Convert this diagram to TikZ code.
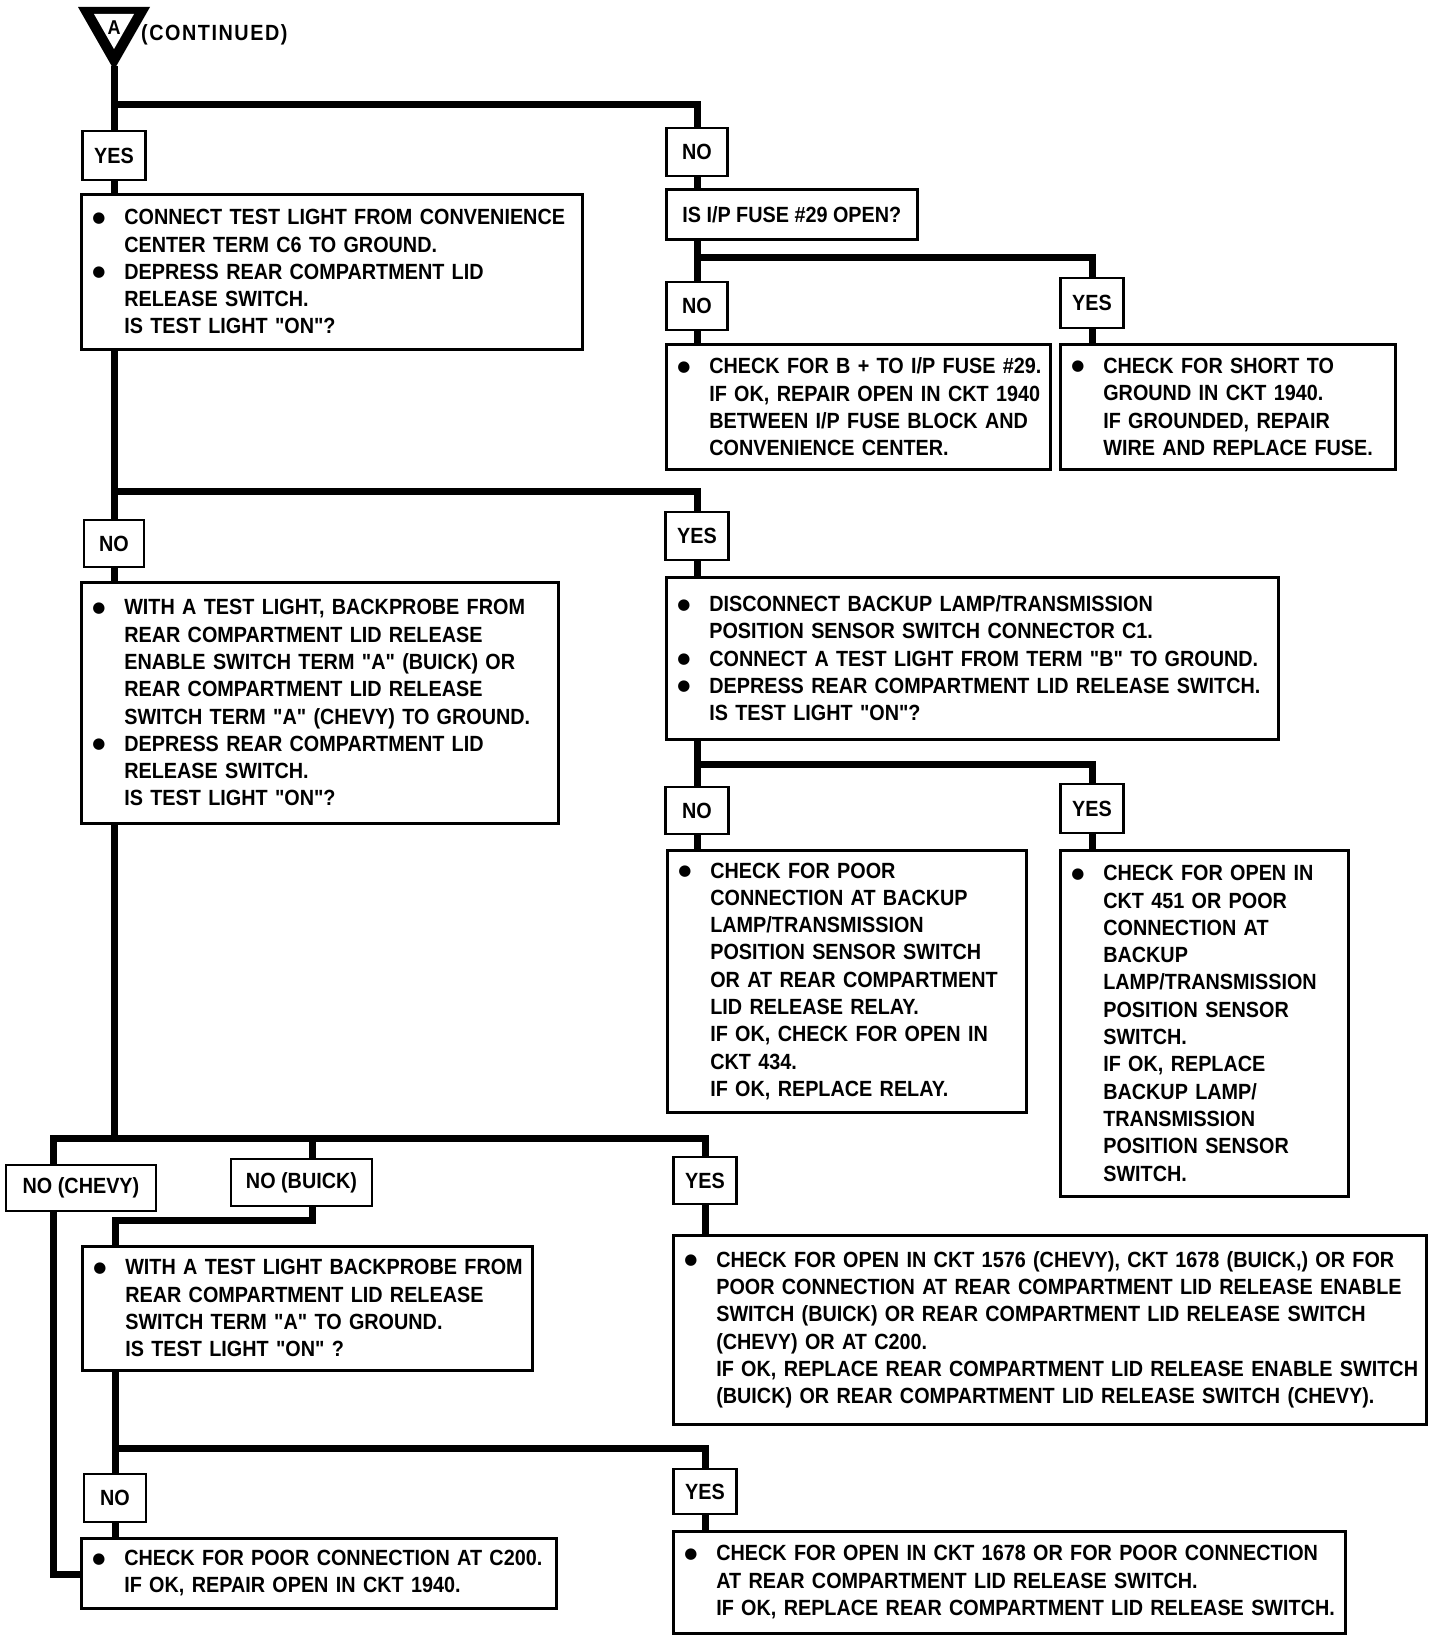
\documentclass[tikz,border=0pt]{standalone}
\usepackage{fontspec}
\newfontfamily\df{Liberation Sans}[FakeStretch=0.9]
\newfontfamily\symf{DejaVu Sans}
\newcommand\bigbul{\raisebox{2.5pt}{\symf\fontsize{15}{15}\selectfont ●}}
\newcommand\BL[1]{\mbox{\makebox[31pt][l]{\hspace*{-1pt}\bigbul}#1}}
\newcommand\IL[1]{\mbox{\hspace*{31pt}#1}}
\tikzset{
  conn/.style={line width=7pt, line join=miter},
  txt/.style={font=\df\bfseries\fontsize{22}{27.3}\selectfont},
  cbox/.style={txt, draw, line width=2.6pt, anchor=north west, inner xsep=12pt, inner ysep=0pt, align=left},
  lab/.style={txt, draw, line width=2.6pt, inner sep=0pt, fill=white},
}
\begin{document}
\begin{tikzpicture}[x=1pt,y=-1pt]
\useasboundingbox[fill=white] (0,0) rectangle (1440,1640);

% connector symbol
\fill (78,7) -- (150,7) -- (114,70) -- cycle;
\fill[white] (94,14) -- (134,14) -- (114,49) -- cycle;
\node[font=\df\bfseries\fontsize{20}{20}\selectfont, inner sep=0pt] (alet) at (114,28) {A};
\coordinate (apex) at (114,66);
\node[txt, anchor=west, inner sep=0pt] (cont) at (141,35) {\addfontfeature{LetterSpace=7}(CONTINUED)};

% label boxes
\node[lab, minimum width=63, minimum height=49] (yes1) at (114,155.5) {YES};
\node[lab, minimum width=61, minimum height=48] (no1) at (697,152) {NO};
\node[lab, minimum width=61, minimum height=48] (no2) at (697,306) {NO};
\node[lab, minimum width=63, minimum height=50] (yes2) at (1092,303) {YES};
\node[lab, minimum width=60, minimum height=47] (no3) at (114,543.5) {NO};
\node[lab, minimum width=63, minimum height=48] (yes3) at (697,536) {YES};
\node[lab, minimum width=63, minimum height=47] (no4) at (697,810.5) {NO};
\node[lab, minimum width=63, minimum height=49] (yes4) at (1092,808.5) {YES};
\node[lab, minimum width=150, minimum height=46] (nochevy) at (81,1188) {NO (CHEVY)};
\node[lab, minimum width=141, minimum height=47] (nobuick) at (301.5,1182.5) {NO (BUICK)};
\node[lab, minimum width=63, minimum height=47] (yes5) at (705,1180.5) {YES};
\node[lab, minimum width=62, minimum height=48] (no6) at (115,1498) {NO};
\node[lab, minimum width=63, minimum height=45] (yes6) at (705,1491.5) {YES};

% content boxes
\node[cbox, minimum width=501, minimum height=155, text width=477] (b1) at (80,193) {%
\BL{CONNECT TEST LIGHT FROM CONVENIENCE}\\
\IL{CENTER TERM C6 TO GROUND.}\\
\BL{DEPRESS REAR COMPARTMENT LID}\\
\IL{RELEASE SWITCH.}\\
\IL{IS TEST LIGHT "ON"?}};

\node[txt, draw, line width=2.6pt, anchor=north west, inner sep=0pt, minimum width=251, minimum height=50] (fuse) at (665,188) {IS I/P FUSE \#29 OPEN?};

\node[cbox, minimum width=384, minimum height=125, text width=360] (b2) at (665,343) {%
\BL{CHECK FOR B + TO I/P FUSE \#29.}\\
\IL{IF OK, REPAIR OPEN IN CKT 1940}\\
\IL{BETWEEN I/P FUSE BLOCK AND}\\
\IL{CONVENIENCE CENTER.}};

\node[cbox, minimum width=335, minimum height=125, text width=311] (b3) at (1059,343) {%
\BL{CHECK FOR SHORT TO}\\
\IL{GROUND IN CKT 1940.}\\
\IL{IF GROUNDED, REPAIR}\\
\IL{WIRE AND REPLACE FUSE.}};

\node[cbox, minimum width=477, minimum height=241, text width=453] (b4) at (80,581) {%
\BL{WITH A TEST LIGHT, BACKPROBE FROM}\\
\IL{REAR COMPARTMENT LID RELEASE}\\
\IL{ENABLE SWITCH TERM "A" (BUICK) OR}\\
\IL{REAR COMPARTMENT LID RELEASE}\\
\IL{SWITCH TERM "A" (CHEVY) TO GROUND.}\\
\BL{DEPRESS REAR COMPARTMENT LID}\\
\IL{RELEASE SWITCH.}\\
\IL{IS TEST LIGHT "ON"?}};

\node[cbox, minimum width=612, minimum height=162, text width=588] (b5) at (665,576) {%
\BL{DISCONNECT BACKUP LAMP/TRANSMISSION}\\
\IL{POSITION SENSOR SWITCH CONNECTOR C1.}\\
\BL{CONNECT A TEST LIGHT FROM TERM "B" TO GROUND.}\\
\BL{DEPRESS REAR COMPARTMENT LID RELEASE SWITCH.}\\
\IL{IS TEST LIGHT "ON"?}};

\node[cbox, minimum width=359, minimum height=262, text width=335] (b6) at (666,849) {%
\BL{CHECK FOR POOR}\\
\IL{CONNECTION AT BACKUP}\\
\IL{LAMP/TRANSMISSION}\\
\IL{POSITION SENSOR SWITCH}\\
\IL{OR AT REAR COMPARTMENT}\\
\IL{LID RELEASE RELAY.}\\
\IL{IF OK, CHECK FOR OPEN IN}\\
\IL{CKT 434.}\\
\IL{IF OK, REPLACE RELAY.}};

\node[cbox, minimum width=288, minimum height=346, text width=264] (b7) at (1059,849) {%
\BL{CHECK FOR OPEN IN}\\
\IL{CKT 451 OR POOR}\\
\IL{CONNECTION AT}\\
\IL{BACKUP}\\
\IL{LAMP/TRANSMISSION}\\
\IL{POSITION SENSOR}\\
\IL{SWITCH.}\\
\IL{IF OK, REPLACE}\\
\IL{BACKUP LAMP/}\\
\IL{TRANSMISSION}\\
\IL{POSITION SENSOR}\\
\IL{SWITCH.}};

\node[cbox, minimum width=450, minimum height=124, text width=426] (b8) at (81,1245) {%
\BL{WITH A TEST LIGHT BACKPROBE FROM}\\
\IL{REAR COMPARTMENT LID RELEASE}\\
\IL{SWITCH TERM "A" TO GROUND.}\\
\IL{IS TEST LIGHT "ON" ?}};

\node[cbox, minimum width=753, minimum height=189, text width=729] (b9) at (672,1234) {%
\BL{CHECK FOR OPEN IN CKT 1576 (CHEVY), CKT 1678 (BUICK,) OR FOR}\\
\IL{POOR CONNECTION AT REAR COMPARTMENT LID RELEASE ENABLE}\\
\IL{SWITCH (BUICK) OR REAR COMPARTMENT LID RELEASE SWITCH}\\
\IL{(CHEVY) OR AT C200.}\\
\IL{IF OK, REPLACE REAR COMPARTMENT LID RELEASE ENABLE SWITCH}\\
\IL{(BUICK) OR REAR COMPARTMENT LID RELEASE SWITCH (CHEVY).}};

\node[cbox, minimum width=475, minimum height=70, text width=451] (b10) at (80,1537) {%
\BL{CHECK FOR POOR CONNECTION AT C200.}\\
\IL{IF OK, REPAIR OPEN IN CKT 1940.}};

\node[cbox, minimum width=672, minimum height=102, text width=648] (b11) at (672,1530) {%
\BL{CHECK FOR OPEN IN CKT 1678 OR FOR POOR CONNECTION}\\
\IL{AT REAR COMPARTMENT LID RELEASE SWITCH.}\\
\IL{IF OK, REPLACE REAR COMPARTMENT LID RELEASE SWITCH.}};

% junction coordinates
\coordinate (mx) at (114,0);
\coordinate (j1) at (114,105);
\coordinate (j2) at (697,257);
\coordinate (j3) at (114,491);
\coordinate (j4) at (697,764);
\coordinate (j5) at (114,1138);
\coordinate (j5L) at (53,1138);
\coordinate (j5R) at (705,1138);
\coordinate (jb) at (312,1138);
\coordinate (e1) at (312,1220);
\coordinate (e2) at (115,1220);
\coordinate (j6) at (115,1448);
\coordinate (e3) at (53,1574);

% connectors
\draw[conn] (apex) -- (yes1.north);
\draw[conn] (j1) -| (no1.north);
\draw[conn] (yes1.south) -- (yes1.south |- b1.north);
\draw[conn] (b1.south -| mx) -- (no3.north);
\draw[conn] (j3) -| (yes3.north);
\draw[conn] (no3.south) -- (no3.south |- b4.north);
\draw[conn] (b4.south -| mx) -- (j5);
\draw[conn] (j5L |- nochevy.north) -- (j5L) -- (j5R) -- (yes5.north);
\draw[conn] (jb) -- (jb |- nobuick.north);

\draw[conn] (no1.south) -- (no1.south |- fuse.north);
\draw[conn] (fuse.south -| no1) -- (no2.north);
\draw[conn] (j2) -| (yes2.north);
\draw[conn] (no2.south) -- (no2.south |- b2.north);
\draw[conn] (yes2.south) -- (yes2.south |- b3.north);

\draw[conn] (yes3.south) -- (yes3.south |- b5.north);
\draw[conn] (b5.south -| yes3) -- (no4.north);
\draw[conn] (j4) -| (yes4.north);
\draw[conn] (no4.south) -- (no4.south |- b6.north);
\draw[conn] (yes4.south) -- (yes4.south |- b7.north);

\draw[conn] (yes5.south) -- (yes5.south |- b9.north);
\draw[conn] (nobuick.south -| e1) -- (e1) -- (e2) -- (e2 |- b8.north);
\draw[conn] (b8.south -| e2) -- (no6.north);
\draw[conn] (j6) -| (yes6.north);
\draw[conn] (no6.south) -- (no6.south |- b10.north);
\draw[conn] (yes6.south) -- (yes6.south |- b11.north);
\draw[conn] (nochevy.south -| e3) -- (e3) -- (e3 -| b10.west);
\end{tikzpicture}
\end{document}
